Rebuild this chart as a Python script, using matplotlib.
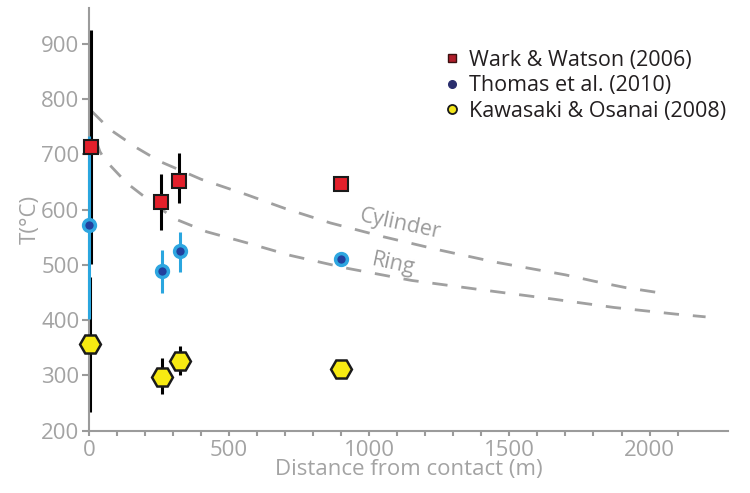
import matplotlib
matplotlib.use("Agg")
import matplotlib.pyplot as plt
from matplotlib.lines import Line2D
from matplotlib.ticker import FixedLocator

plt.rcParams["font.family"] = ["Open Sans", "DejaVu Sans"]

# Wark & Watson (2006)
wark_x = [8, 257, 322, 900]
wark_y = [714, 614, 651, 646]
wark_lo = [212, 51, 39, 0]
wark_hi = [211, 51, 52, 0]

# Thomas et al. (2010)
thomas_x = [0, 262, 325, 900]
thomas_y = [572, 489, 525, 510]
thomas_lo = [170, 40, 38, 0]
thomas_hi = [161, 38, 34, 0]

# Kawasaki & Osanai (2008)
kawa_x = [3, 262, 325, 900]
kawa_y = [357, 297, 326, 312]
kawa_lo = [124, 31, 26, 0]
kawa_hi = [121, 34, 27, 0]

# model curves
cyl_x = [10, 75, 170, 254, 400, 563, 700, 861, 1050, 1250, 1450, 1700, 1807, 1914, 2069]
cyl_y = [778, 745, 712, 687, 655, 627, 602, 576, 551, 527, 505, 482, 470, 459, 447]
ring_x = [25, 39, 57, 135, 242, 313, 420, 563, 720, 920, 1150, 1400, 1658, 1873, 2093, 2200]
ring_y = [725, 705, 690, 648, 606, 582, 560, 540, 517, 494, 472, 455, 438, 423, 411, 406]

grey = "#9b9b9b"
txt_grey = "#a3a3a3"

fig = plt.figure(figsize=(7.5, 4.93), dpi=100)
ax = fig.add_axes([0.1187, 0.1264, 0.852, 0.8574])

ax.plot(cyl_x, cyl_y, color="#a0a0a0", lw=2, dashes=(5.5, 5), zorder=1)
ax.plot(ring_x, ring_y, color="#a0a0a0", lw=2, dashes=(5.5, 5), zorder=1)
ax.text(1111, 574, "Cylinder", color=grey, fontsize=15.5, rotation=-12,
        ha="center", va="center")
ax.text(1086, 502, "Ring", color=grey, fontsize=15.5, rotation=-12,
        ha="center", va="center")

ax.errorbar(wark_x, wark_y, yerr=[wark_lo, wark_hi], fmt="none",
            ecolor="black", elinewidth=2.2, capsize=0, zorder=2, clip_on=False)
ax.errorbar(kawa_x, kawa_y, yerr=[kawa_lo, kawa_hi], fmt="none",
            ecolor="black", elinewidth=2.2, capsize=0, zorder=2, clip_on=False)
ax.errorbar(thomas_x, thomas_y, yerr=[thomas_lo, thomas_hi], fmt="none",
            ecolor="#2aa6df", elinewidth=2.2, capsize=0, zorder=3, clip_on=False)

ax.plot(wark_x, wark_y, "s", ms=9.5, mfc="#e3202b", mec="#1a1a1a", mew=1.5,
        ls="none", zorder=5, clip_on=False)
ax.plot(thomas_x, thomas_y, "o", ms=8.5, mfc="#22409e", mec="#2ea6e0", mew=2.5,
        ls="none", zorder=5, clip_on=False)
ax.plot(kawa_x, kawa_y, "H", ms=15, mfc="#f7ea12", mec="#1a1a1a", mew=1.8,
        ls="none", zorder=5, clip_on=False)

ax.set_xlim(0, 2280)
ax.set_ylim(200, 965)
ax.set_xticks([0, 500, 1000, 1500, 2000])
ax.xaxis.set_minor_locator(FixedLocator(range(0, 2101, 100)))
ax.set_yticks(range(200, 901, 100))

for s in ["top", "right"]:
    ax.spines[s].set_visible(False)
for s in ["left", "bottom"]:
    ax.spines[s].set_color(grey)
    ax.spines[s].set_linewidth(1.5)

ax.tick_params(axis="y", colors=grey, labelcolor=txt_grey, labelsize=16,
               length=5, width=1.5, pad=2)
ax.tick_params(axis="x", which="both", colors=grey, labelcolor=txt_grey,
               labelsize=16, length=3.5, width=1.5, pad=3)

ax.set_xlabel("Distance from contact (m)", color=txt_grey, fontsize=16, labelpad=-1)
ax.set_ylabel("T(°C)", color=txt_grey, fontsize=16, labelpad=0)

handles = [
    Line2D([], [], marker="s", ls="none", ms=5.5, mfc="#b01e2b", mec="#3a1010", mew=1),
    Line2D([], [], marker="o", ls="none", ms=5.5, mfc="#2b2f6e", mec="#2b2f6e", mew=1),
    Line2D([], [], marker="o", ls="none", ms=6.5, mfc="#f2e51a", mec="#1a1a1a", mew=1.3),
]
labels = ["Wark & Watson (2006)", "Thomas et al. (2010)", "Kawasaki & Osanai (2008)"]
ax.legend(handles, labels, loc="upper left", bbox_to_anchor=(0.565, 0.938),
          bbox_transform=fig.transFigure, frameon=False, fontsize=15.5,
          handlelength=0.8, handletextpad=0.4, labelspacing=0.2,
          labelcolor="#231f20")

fig.savefig("out.png", dpi=100)
